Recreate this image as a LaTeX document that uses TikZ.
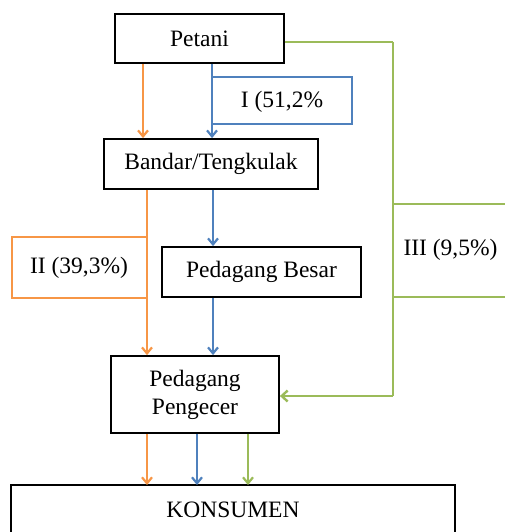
\documentclass[tikz,border=0pt]{standalone}
\usepackage{fontspec}
\setmainfont{Liberation Serif}
\usetikzlibrary{arrows.meta}
\definecolor{corange}{HTML}{F79646}
\definecolor{cblue}{HTML}{4F81BD}
\definecolor{cgreen}{HTML}{9BBB59}
\begin{document}
\begin{tikzpicture}[x=1pt,y=-1pt,
  every node/.style={font=\fontsize{23.5}{28}\selectfont},
  box/.style={draw=black,line width=1.8pt,inner sep=0pt,align=center},
  lbl/.style={line width=1.7pt,inner sep=0pt},
  flow/.style={line width=1.8pt,-{Straight Barb[length=6pt,width=10pt,line width=2.2pt]}},
  ln/.style={line width=1.8pt}]
\useasboundingbox (0,0) rectangle (505,532);
% label boxes (drawn first)
\draw[lbl,draw=cblue] (212,77) rectangle (352,124);
\node (l1) at (282,102) {I (51,2\%};
\draw[lbl,draw=corange] (12,237) rectangle (147,298);
\node (l2) at (79,268) {II (39,3\%)};
\draw[lbl,draw=cgreen] (393,204) -- (520,204);
\draw[lbl,draw=cgreen] (393,297) -- (520,297);
\node[anchor=west] (l3) at (400,250) {III (9,5\%)};
% main nodes
\node[box,minimum width=169pt,minimum height=49pt] (pet) at (199.5,38.5) {Petani};
\node[box,minimum width=214pt,minimum height=50pt] (ban) at (211,164) {Bandar/Tengkulak};
\node[box,minimum width=199pt,minimum height=50pt] (bes) at (261.5,272) {Pedagang Besar};
\node[box,minimum width=168pt,minimum height=77pt] (pen) at (195,394.5) {Pedagang\\Pengecer};
\draw[line width=1.8pt] (11,545) -- (11,485) -- (455,485) -- (455,545);
\coordinate (kon) at (233,485);
\node (kt) at (233,510) {KONSUMEN};
% coordinates for connectors
\coordinate (o1) at (143,0);
\coordinate (b1) at (212,0);
\coordinate (o2) at (147,0);
\coordinate (b2) at (213,0);
\coordinate (g1) at (393,42);
\coordinate (g2) at (393,396);
\coordinate (k1) at (147,0);
\coordinate (k2) at (197,0);
\coordinate (k3) at (248,0);
% connectors
\draw[flow,corange] (pet.south -| o1) -- (ban.north -| o1);
\draw[flow,cblue] (pet.south -| b1) -- (ban.north -| b1);
\draw[flow,corange] (ban.south -| o2) -- (pen.north -| o2);
\draw[flow,cblue] (ban.south -| b2) -- (bes.north -| b2);
\draw[flow,cblue] (bes.south -| b2) -- (pen.north -| b2);
\draw[cgreen,line width=2.6pt] (pet.east |- g1) -- (g1);
\draw[cgreen,line width=1.8pt] (g1) -- (g2);
\draw[cgreen,line width=2.6pt,-{Straight Barb[length=6pt,width=11pt,line width=2.4pt]}] (g2) -- (pen.east |- g2);
\draw[flow,corange] (pen.south -| k1) -- (kon -| k1);
\draw[flow,cblue] (pen.south -| k2) -- (kon -| k2);
\draw[flow,cgreen] (pen.south -| k3) -- (kon -| k3);
\end{tikzpicture}
\end{document}
